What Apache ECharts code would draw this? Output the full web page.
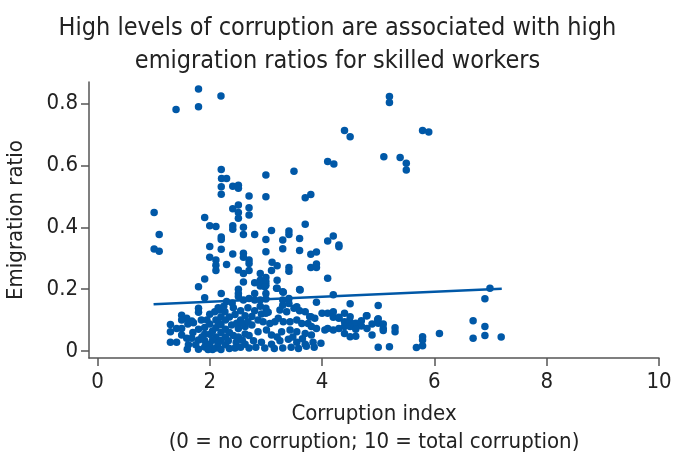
<!DOCTYPE html>
<html>
<head>
<meta charset="utf-8">
<title>Corruption and emigration</title>
<script src="https://cdn.jsdelivr.net/npm/echarts@6.0.0/dist/echarts.min.js"></script>
<style>
  html, body { margin: 0; padding: 0; background: #fff; }
  #chart { width: 675px; height: 454px; }
</style>
</head>
<body>
<div id="chart"></div>
<script>
// [corruption index, emigration ratio], grouped by band
var highPoints = [
  [1.80, 0.847], [2.20, 0.825], [1.40, 0.781], [1.80, 0.790],
  [5.20, 0.823], [5.20, 0.804], [4.40, 0.713], [4.50, 0.693], [5.79, 0.713], [5.90, 0.708],
  [5.10, 0.628], [5.39, 0.626], [5.50, 0.607], [5.50, 0.585], [4.10, 0.613], [4.21, 0.605], [3.50, 0.581],
  [2.205, 0.587], [2.21, 0.558], [2.30, 0.558], [3.00, 0.569], [2.205, 0.531], [2.41, 0.533], [2.51, 0.536],
  [2.51, 0.526], [2.205, 0.507], [2.70, 0.501], [3.00, 0.499], [3.70, 0.496], [3.80, 0.506],
  [1.01, 0.448], [2.41, 0.460], [2.51, 0.472], [2.51, 0.448], [2.70, 0.463], [2.70, 0.440], [1.91, 0.432],
  [2.51, 0.429], [2.00, 0.405], [2.11, 0.403], [2.41, 0.405], [3.70, 0.410]
]
var midPoints = [
  [2.41, 0.394], [2.60, 0.400], [2.60, 0.377], [2.80, 0.377], [3.00, 0.361], [1.10, 0.377], [2.205, 0.369],
  [2.205, 0.361], [3.10, 0.390], [3.41, 0.388], [3.41, 0.377], [3.30, 0.359], [3.60, 0.364], [4.10, 0.356],
  [4.20, 0.372], [4.30, 0.343], [4.30, 0.337], [1.01, 0.330], [1.10, 0.323], [2.00, 0.338], [2.205, 0.329],
  [3.00, 0.321], [3.30, 0.331], [3.60, 0.325], [3.80, 0.313], [3.90, 0.320], [2.00, 0.303], [2.11, 0.294],
  [2.11, 0.277], [2.11, 0.260], [2.41, 0.314], [2.60, 0.316], [2.60, 0.303], [2.70, 0.294], [2.70, 0.283],
  [2.30, 0.280], [3.11, 0.287], [3.20, 0.276], [3.41, 0.270], [3.41, 0.258], [3.80, 0.270], [3.90, 0.281],
  [3.90, 0.270], [3.10, 0.260], [2.51, 0.262], [2.60, 0.251], [2.70, 0.260], [2.90, 0.251], [2.90, 0.229],
  [3.00, 0.238], [1.91, 0.233], [2.60, 0.223], [2.80, 0.221], [3.00, 0.213], [2.90, 0.210], [1.80, 0.208],
  [4.10, 0.235], [3.20, 0.229], [3.00, 0.224], [3.20, 0.203], [3.30, 0.192], [3.60, 0.199], [6.99, 0.203]
]
var lowMidPoints = [
  [2.205, 0.186], [2.51, 0.200], [2.51, 0.186], [2.51, 0.176], [2.80, 0.186], [3.00, 0.186], [3.00, 0.168],
  [1.91, 0.172], [2.60, 0.165], [2.70, 0.170], [2.80, 0.165], [2.90, 0.165], [3.19, 0.203], [3.31, 0.190],
  [3.61, 0.197], [4.20, 0.182], [3.90, 0.158], [4.50, 0.153], [5.00, 0.147], [3.30, 0.165], [3.41, 0.170],
  [3.41, 0.154], [3.30, 0.148], [6.90, 0.169], [2.98, 0.208], [2.30, 0.160], [2.40, 0.155]
]
var lowPoints = [
  // 1.3 - 1.8
  [1.80, 0.138], [1.80, 0.125], [1.50, 0.116], [1.59, 0.106], [1.50, 0.100], [1.68, 0.097], [1.30, 0.086],
  [1.30, 0.062], [1.41, 0.073], [1.50, 0.073], [1.30, 0.028], [1.41, 0.028], [1.50, 0.052], [1.59, 0.041],
  [1.68, 0.041], [1.80, 0.036], [1.60, 0.006], [1.80, 0.006], [1.61, 0.087], [1.71, 0.091], [1.80, 0.070],
  [1.70, 0.060], [1.62, 0.020], [1.75, 0.020],
  // 1.85 - 2.3
  [1.91, 0.076], [1.91, 0.054], [1.91, 0.033], [1.91, 0.013], [2.00, 0.119], [2.00, 0.087], [2.00, 0.054],
  [2.00, 0.022], [2.09, 0.127], [2.11, 0.100], [2.11, 0.075], [2.11, 0.045], [2.11, 0.010], [2.18, 0.133],
  [2.20, 0.110], [2.20, 0.085], [2.20, 0.060], [2.20, 0.035], [2.20, 0.005], [2.27, 0.127], [2.28, 0.100],
  [2.28, 0.070], [2.28, 0.045], [2.28, 0.020], [1.85, 0.100], [1.95, 0.100], [2.05, 0.065], [2.05, 0.035],
  [2.05, 0.005], [1.97, 0.005], [2.15, 0.025], [2.15, 0.140], [2.25, 0.145], [1.86, 0.045], [2.16, 0.090],
  // 2.3 - 2.9
  [2.33, 0.033], [2.39, 0.084], [2.45, 0.118], [2.47, 0.028], [2.51, 0.073], [2.51, 0.045], [2.63, 0.114],
  [2.63, 0.079], [2.63, 0.055], [2.63, 0.022], [2.75, 0.112], [2.75, 0.084], [2.78, 0.033], [2.86, 0.100],
  [2.86, 0.062], [2.92, 0.120], [2.92, 0.028], [2.35, 0.110], [2.35, 0.060], [2.35, 0.008], [2.42, 0.140],
  [2.45, 0.010], [2.55, 0.100], [2.55, 0.130], [2.55, 0.012], [2.58, 0.035], [2.68, 0.140], [2.70, 0.010],
  [2.70, 0.050], [2.80, 0.130], [2.82, 0.012], [2.90, 0.145], [2.42, 0.050], [2.48, 0.090], [2.58, 0.090],
  [2.68, 0.095],
  // 2.9 - 4.0
  [2.95, 0.095], [3.04, 0.125], [3.07, 0.089], [3.10, 0.052], [3.10, 0.022], [3.16, 0.095], [3.22, 0.106],
  [3.25, 0.133], [3.25, 0.033], [3.28, 0.062], [3.31, 0.095], [3.37, 0.127], [3.40, 0.038], [3.43, 0.095],
  [3.43, 0.068], [3.55, 0.143], [3.55, 0.100], [3.55, 0.062], [3.55, 0.028], [3.64, 0.089], [3.70, 0.127],
  [3.70, 0.057], [3.70, 0.022], [3.75, 0.089], [3.78, 0.111], [3.81, 0.079], [3.81, 0.052], [3.84, 0.028],
  [3.87, 0.106], [3.90, 0.073], [3.01, 0.068], [3.00, 0.138], [3.00, 0.122], [3.50, 0.138], [3.60, 0.130],
  [3.80, 0.111], [2.98, 0.010], [3.15, 0.008], [3.30, 0.010], [3.45, 0.012], [3.58, 0.008], [3.72, 0.015],
  [3.86, 0.012], [3.98, 0.025], [4.05, 0.068], [3.20, 0.045], [3.48, 0.045], [3.65, 0.040],
  // 4.0 - 5.3
  [4.00, 0.122], [4.10, 0.122], [4.20, 0.127], [4.20, 0.109], [4.30, 0.109], [4.40, 0.122], [4.50, 0.111],
  [4.40, 0.095], [4.80, 0.114], [5.00, 0.104], [5.00, 0.090], [5.09, 0.087], [4.89, 0.087], [4.70, 0.098],
  [4.70, 0.081], [4.60, 0.090], [4.49, 0.098], [4.56, 0.087], [4.10, 0.073], [4.30, 0.073], [4.40, 0.079],
  [4.50, 0.079], [4.80, 0.073], [5.09, 0.073], [5.09, 0.066], [5.30, 0.075], [5.30, 0.062], [4.40, 0.057],
  [4.50, 0.046], [4.60, 0.048], [4.89, 0.052], [5.00, 0.012], [5.20, 0.014], [4.30, 0.106], [4.79, 0.114],
  [4.20, 0.068], [4.60, 0.070], [4.99, 0.101],
  // 5.7 - 7.2
  [5.79, 0.046], [5.79, 0.036], [5.79, 0.017], [5.68, 0.011], [6.09, 0.057], [6.69, 0.098], [6.90, 0.079],
  [6.69, 0.041], [6.90, 0.050], [7.19, 0.045]
]
var trendLine = [[1.0, 0.151], [7.2, 0.201]]
var xTicks = [0, 2, 4, 6, 8, 10]
var yTicks = [0, 0.2, 0.4, 0.6, 0.8]

var blue = '#0058a7'
var font = "'Liberation Sans Narrow', 'DejaVu Sans Condensed', 'Liberation Sans', sans-serif"

var myChart = echarts.init(document.getElementById('chart'))
myChart.setOption({
  animation: false,
  backgroundColor: '#fff',
  textStyle: { fontFamily: font },
  title: {
    text: 'High levels of corruption are associated with high\nemigration ratios for skilled workers',
    left: 'center',
    top: 7,
    textStyle: { fontFamily: font, fontSize: 25, lineHeight: 33, fontWeight: 'normal', color: '#222' }
  },
  grid: { left: 89, right: 16, top: 82, bottom: 96, outerBoundsMode: 'none' },
  xAxis: {
    type: 'value',
    min: -0.15,
    max: 10,
    name: 'Corruption index\n(0 = no corruption; 10 = total corruption)',
    nameLocation: 'middle',
    nameGap: 42,
    nameTextStyle: { fontFamily: font, fontSize: 22, lineHeight: 28, color: '#222' },
    axisLine: { onZero: false, lineStyle: { color: '#555', width: 1.5 } },
    axisTick: { length: 8, customValues: xTicks, lineStyle: { color: '#555', width: 1.5 } },
    axisLabel: { customValues: xTicks, margin: 13, fontSize: 22, color: '#222' },
    splitLine: { show: false }
  },
  yAxis: {
    type: 'value',
    min: -0.0226,
    max: 0.87,
    name: 'Emigration ratio',
    nameLocation: 'middle',
    nameGap: 62,
    nameTextStyle: { fontFamily: font, fontSize: 22, color: '#222' },
    axisLine: { onZero: false, lineStyle: { color: '#555', width: 1.5 } },
    axisTick: { length: 8, customValues: yTicks, lineStyle: { color: '#555', width: 1.5 } },
    axisLabel: { customValues: yTicks, margin: 11, fontSize: 22, color: '#222' },
    splitLine: { show: false }
  },
  series: [
    {
      type: 'scatter',
      clip: false,
      symbolSize: 7.5,
      itemStyle: { color: blue, opacity: 1 },
      data: highPoints.concat(midPoints, lowMidPoints, lowPoints)
    },
    {
      type: 'line',
      symbol: 'none',
      lineStyle: { color: blue, width: 2.5 },
      data: trendLine
    }
  ]
})
</script>
</body>
</html>
